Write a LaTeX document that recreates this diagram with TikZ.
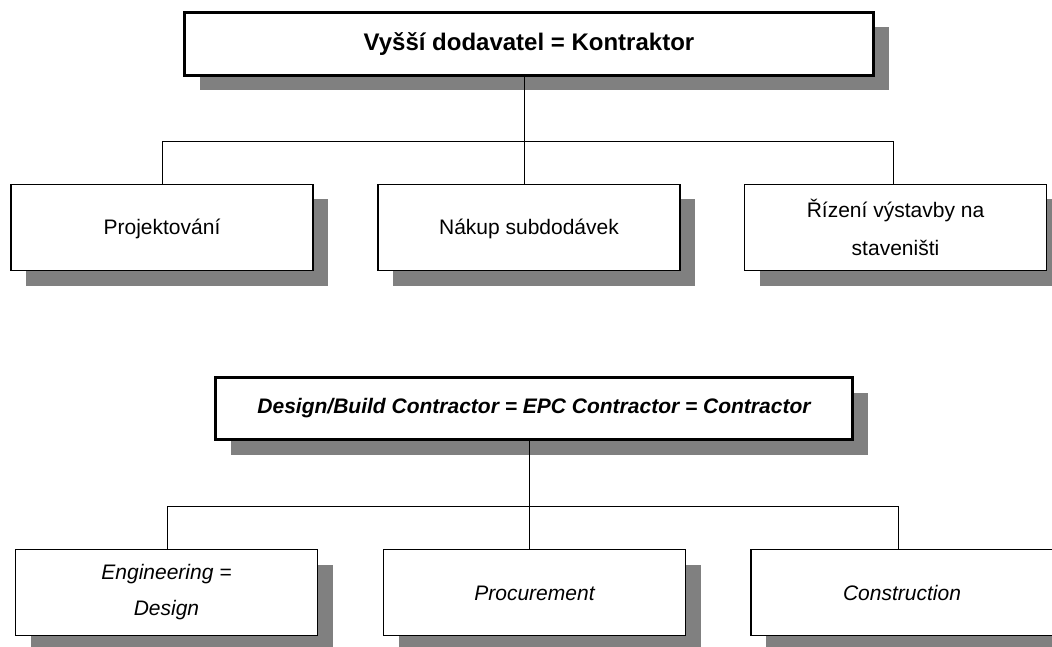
\documentclass[tikz,border=0pt]{standalone}
\usepackage{fontspec}
\setmainfont{Liberation Sans}
\usetikzlibrary{shadows}

\definecolor{shadowgray}{RGB}{128,128,128}

\tikzset{
    boxshadow/.style={drop shadow={shadow xshift=15pt, shadow yshift=-15pt, fill=shadowgray, opacity=1}},
    headbox/.style={draw, fill=white, line width=3pt, inner sep=0pt, boxshadow},
    taskbox/.style={draw, fill=white, line width=1.3pt, inner sep=0pt, minimum width=302pt, minimum height=86pt, align=center, boxshadow},
    oneline/.style={text height=19pt, text depth=4pt},
    conn/.style={line width=1pt}
}

\begin{document}
    \begin{tikzpicture}[x=1pt, y=-1pt]
        \useasboundingbox (0, 0) rectangle (1052, 647);
        \clip (0, 0) rectangle (1052, 647);

        \node[headbox, minimum width=689pt, minimum height=63pt, font=\fontsize{24}{28}\selectfont\bfseries] (kontraktor) at (529, 44) {Vyšší dodavatel = Kontraktor};

        \node[taskbox, oneline, font=\fontsize{21}{25}\selectfont] (projekt) at (162, 227.5) {Projektování};
        \node[taskbox, oneline, font=\fontsize{21}{25}\selectfont] (nakup) at (529, 227.5) {Nákup subdodávek};
        \node[taskbox, font=\fontsize{21}{38}\selectfont] (rizeni) at (895.5, 227.5) {Řízení výstavby na\\staveništi};

        \coordinate (busA-l) at (162, 142);
        \coordinate (busA) at (524, 142);
        \coordinate (busA-r) at (893, 142);

        \draw[conn] (kontraktor.south -| busA) -- (nakup.north -| busA);
        \draw[conn] (projekt.north -| busA-l) |- (busA-r) -- (rizeni.north -| busA-r);

        \node[headbox, minimum width=637pt, minimum height=62pt, font=\fontsize{21}{25}\selectfont\bfseries\itshape] (epc) at (534, 408.5) {Design/Build Contractor = EPC Contractor = Contractor};

        \node[taskbox, font=\fontsize{21}{36}\selectfont\itshape] (engineering) at (166.5, 592.5) {Engineering =\\Design};
        \node[taskbox, oneline, font=\fontsize{21}{25}\selectfont\itshape] (procurement) at (534.5, 592.5) {Procurement};
        \node[taskbox, oneline, font=\fontsize{21}{25}\selectfont\itshape] (construction) at (902, 592.5) {Construction};

        \coordinate (busB-l) at (167, 506);
        \coordinate (busB) at (529, 506);
        \coordinate (busB-r) at (898, 506);

        \draw[conn] (epc.south -| busB) -- (procurement.north -| busB);
        \draw[conn] (engineering.north -| busB-l) |- (busB-r) -- (construction.north -| busB-r);
    \end{tikzpicture}
\end{document}
